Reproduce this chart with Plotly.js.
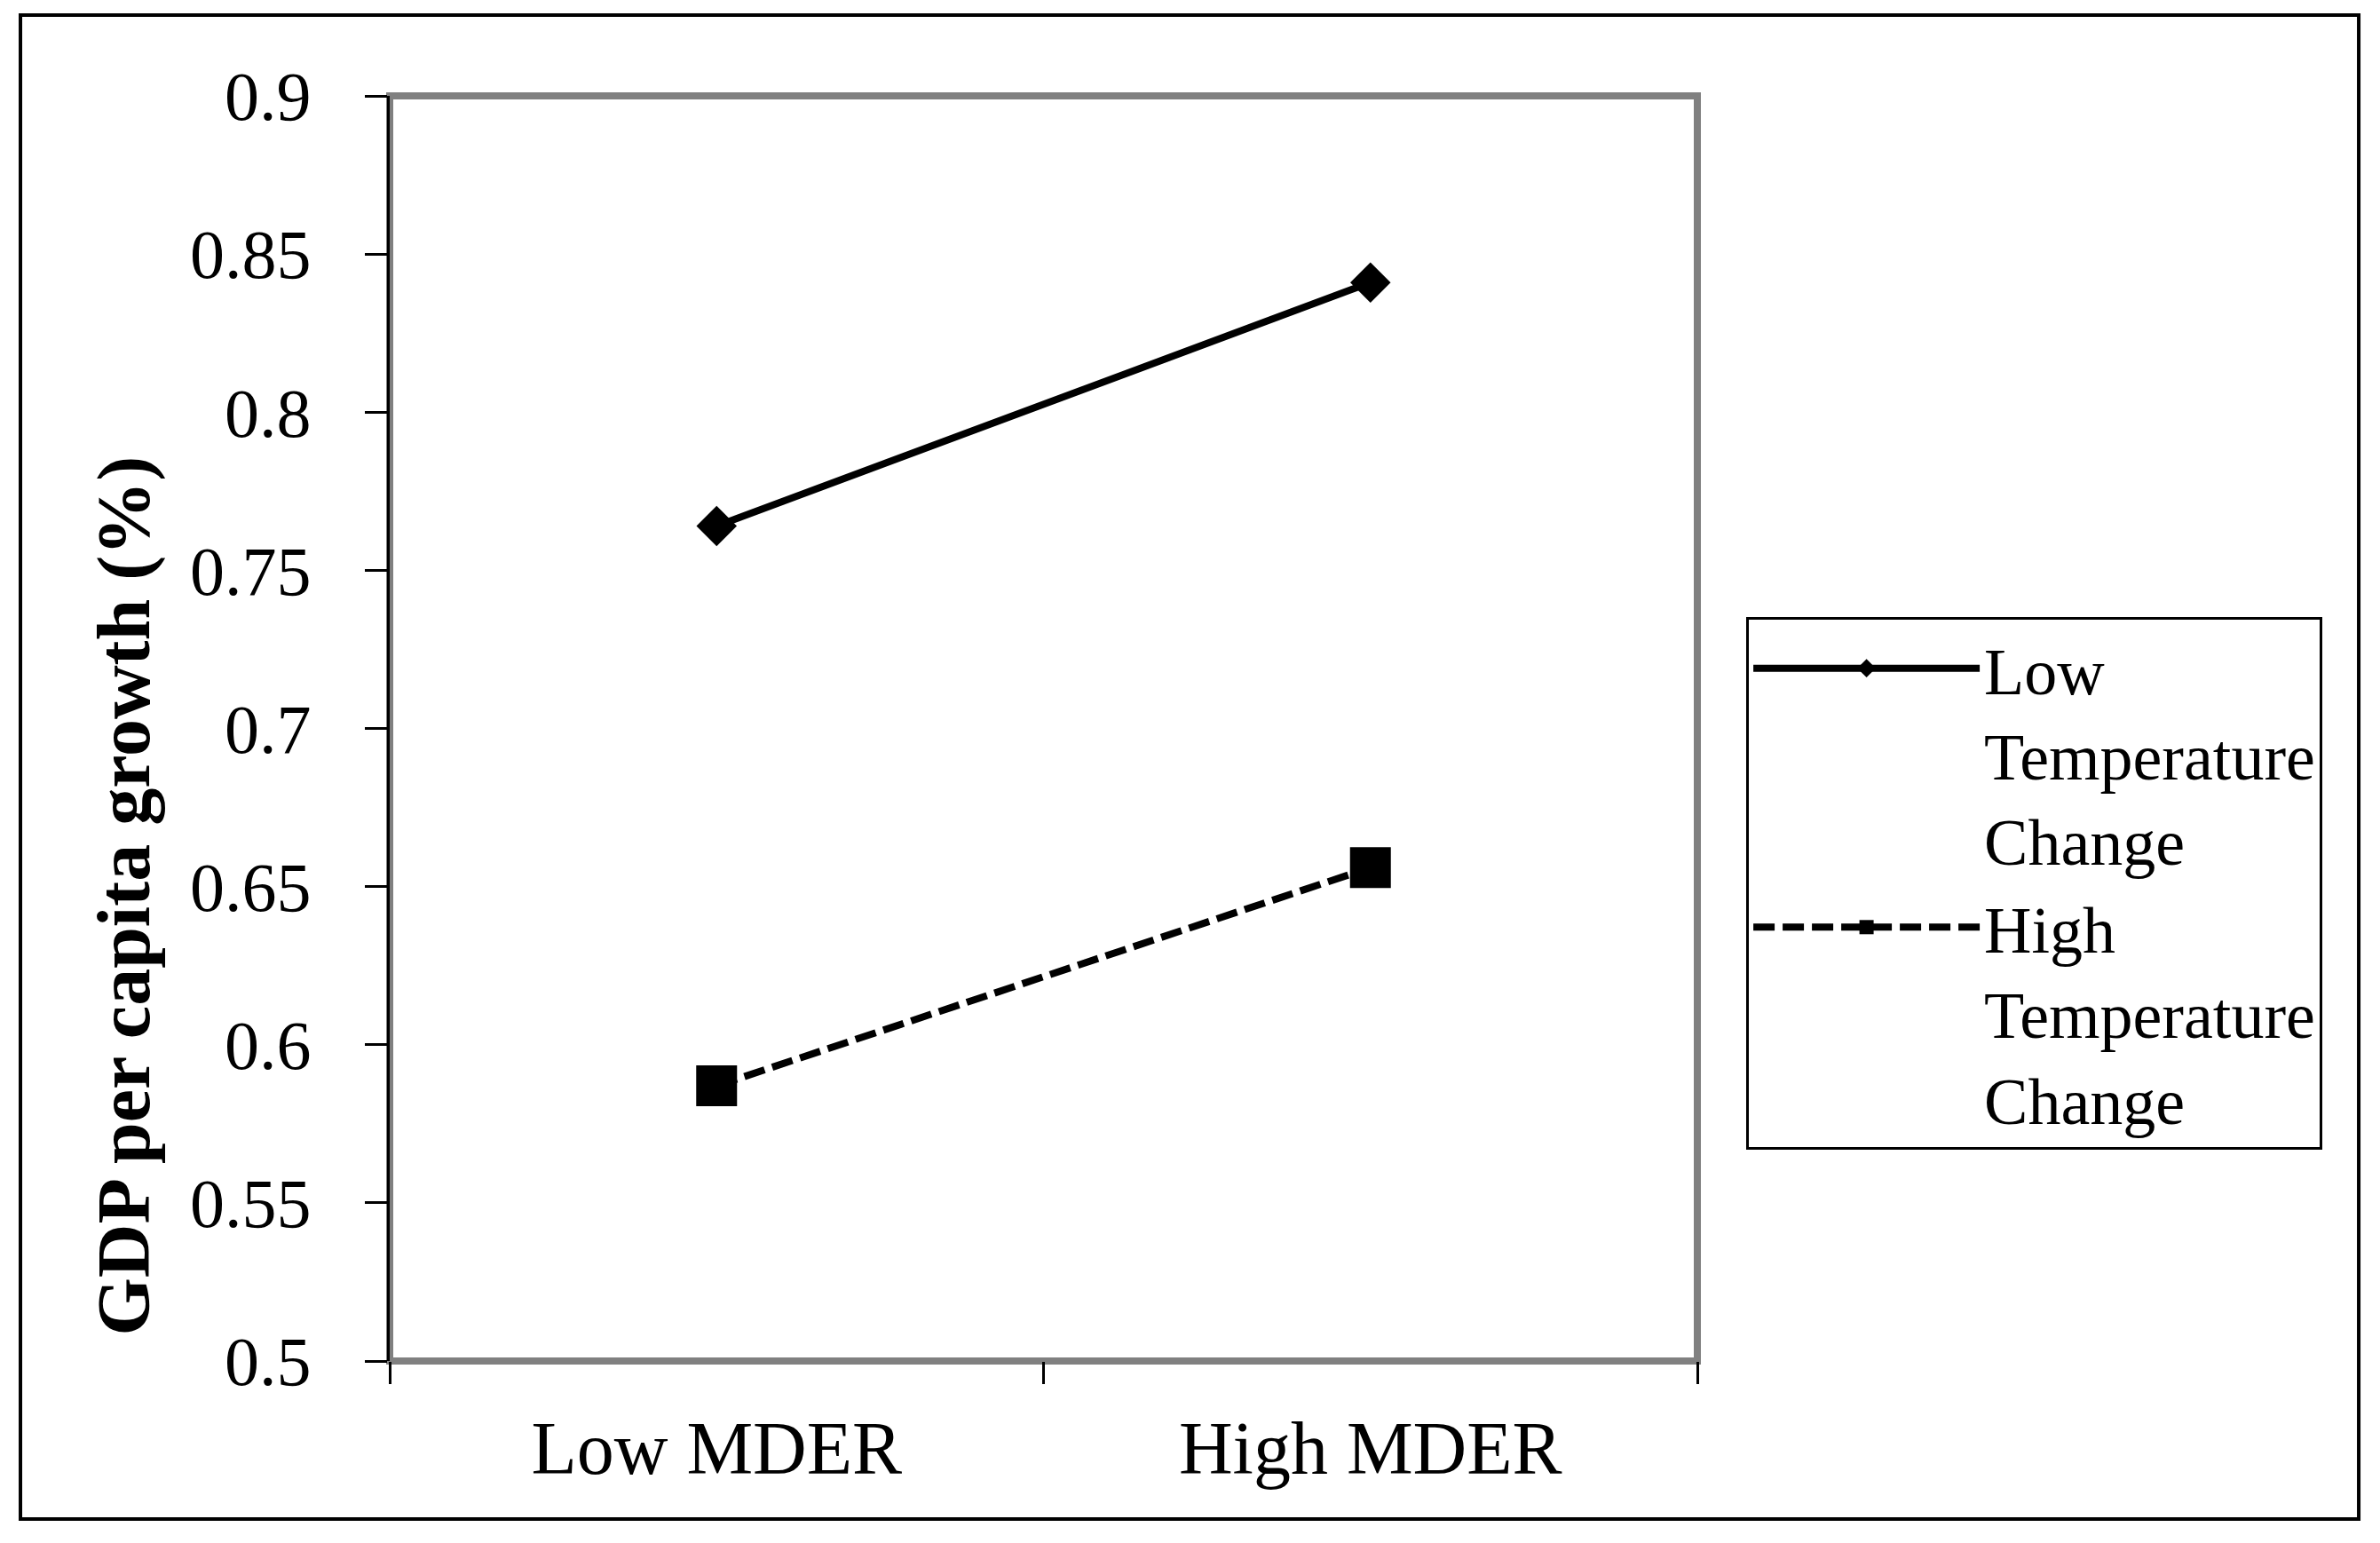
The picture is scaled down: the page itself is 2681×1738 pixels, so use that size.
<!DOCTYPE html>
<html><head><meta charset="utf-8">
<script src="https://cdn.plot.ly/plotly-3.0.1.min.js"></script>
<style>html,body{margin:0;padding:0;background:#fff}</style>
</head><body><div id="chart" style="width:2681px;height:1738px"></div>
<script>
const categories = ['Low MDER', 'High MDER'];
const lowTempChange = [0.764, 0.841];
const highTempChange = [0.587, 0.656];
const seriesNames = ['Low<br>Temperature<br>Change', 'High<br>Temperature<br>Change'];
const yTickVals = [0.5, 0.55, 0.6, 0.65, 0.7, 0.75, 0.8, 0.85, 0.9];
const yTickText = ['0.5', '0.55', '0.6', '0.65', '0.7', '0.75', '0.8', '0.85', '0.9'];
const yTitle = 'GDP per capita growth (%)';

const FONT = '"Liberation Serif", "Times New Roman", serif';

const traces = [
  {
    x: categories, y: lowTempChange, name: seriesNames[0],
    type: 'scatter', mode: 'lines+markers',
    line: {color: '#000', width: 8},
    marker: {symbol: 'diamond', size: 35, color: '#000'}
  },
  {
    x: categories, y: highTempChange, name: seriesNames[1],
    type: 'scatter', mode: 'lines+markers',
    line: {color: '#000', width: 8, dash: '24px,9px'},
    marker: {symbol: 'square', size: 46, color: '#000'}
  }
];

const layout = {
  width: 2681, height: 1738,
  paper_bgcolor: '#fff', plot_bgcolor: '#fff',
  margin: {l: 439, r: 769, t: 108, b: 205, pad: 0},
  font: {family: FONT, color: '#000', size: 84},
  showlegend: true,
  legend: {
    x: 1.0374, y: 0.588, xanchor: 'left', yanchor: 'top',
    bordercolor: '#000', borderwidth: 3, bgcolor: '#fff',
    font: {family: FONT, size: 74, color: '#000'},
    itemwidth: 255, valign: 'top', tracegroupgap: 30
  },
  xaxis: {
    type: 'category', range: [-0.5, 1.5],
    tickson: 'boundaries', ticks: 'outside', ticklen: 25, tickwidth: 3, tickcolor: '#000',
    showline: false, showgrid: false, zeroline: false,
    tickfont: {family: FONT, size: 84, color: '#000'},
    ticklabelstandoff: 42, automargin: false, fixedrange: true
  },
  yaxis: {
    range: [0.5, 0.9], tickvals: yTickVals, ticktext: yTickText,
    ticks: 'outside', ticklen: 25, tickwidth: 3, tickcolor: '#000',
    showline: true, linecolor: '#000', linewidth: 3,
    showgrid: false, zeroline: false,
    tickfont: {family: FONT, size: 78, color: '#000'},
    ticklabelstandoff: 45,
    automargin: false, fixedrange: true
  },
  annotations: [
    {text: '<b>' + yTitle + '</b>', xref: 'paper', yref: 'paper', x: -0.203, y: 0.368,
     xanchor: 'center', yanchor: 'middle', textangle: -90, showarrow: false,
     font: {family: FONT, size: 84, color: '#000'}}
  ],
  shapes: [
    {type: 'rect', xref: 'paper', yref: 'paper', x0: 0, x1: 1, y0: 0, y1: 1,
     line: {color: '#808080', width: 8}, layer: 'below'},
    {type: 'rect', xref: 'paper', yref: 'paper', x0: -0.2824, x1: 1.5058, y0: -0.1249, y1: 1.0639,
     line: {color: '#000', width: 4}, layer: 'below'}
  ]
};

Plotly.newPlot('chart', traces, layout, {staticPlot: true, displayModeBar: false});
</script></body></html>
